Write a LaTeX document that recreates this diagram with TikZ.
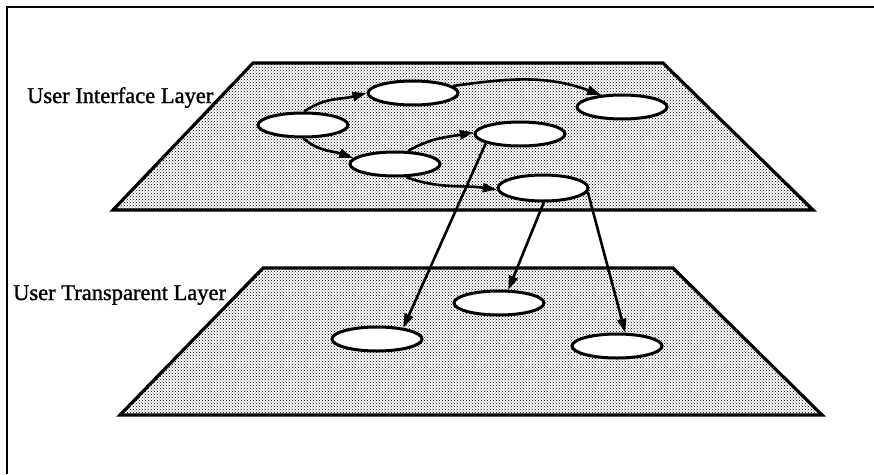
\documentclass[tikz,border=0pt]{standalone}
\usepackage{fontspec}
\setmainfont{Liberation Serif}
\newfontfamily\labelfont[FakeBold=1.3]{Liberation Serif}
\usetikzlibrary{shapes.geometric,patterns,arrows.meta}

\begin{document}
\begin{tikzpicture}[x=1pt,y=-1pt,
  frame/.style={line width=2.6pt},
  plane/.style={fill=white,
    postaction={pattern=crosshatch dots, pattern color=black}},
  planeedge/.style={line width=3.2pt, line join=miter},
  state/.style={ellipse, draw, fill=white, line width=3pt, inner sep=0pt,
    minimum width=90pt, minimum height=24pt},
  flow/.style={line width=2.6pt, -{Triangle[length=14pt,width=9pt]}},
  layerlabel/.style={anchor=base west, inner sep=0pt,
    font=\labelfont\fontsize{22.5}{24}\selectfont}
]
\useasboundingbox (0,0) rectangle (874,474);

% outer frame (top and left edges)
\draw[frame] (874,7) -- (7,7) -- (7,474);

% the two layers
\path[plane] (253,63) -- (663,63) -- (813,210) -- (113,210) -- cycle;
\draw[planeedge] (253,63) -- (663,63) -- (813,210) -- (113,210) -- cycle;
\path[plane] (263,268) -- (673,268) -- (822,415) -- (120,415) -- cycle;
\draw[planeedge] (263,268) -- (673,268) -- (822,415) -- (120,415) -- cycle;

% layer labels
\node[layerlabel] (uil) at (27,103) {User Interface Layer};
\node[layerlabel] (utl) at (13,300) {User Transparent Layer};

% states of the interface layer
\node[state] (e1) at (303,125) {};
\node[state] (e2) at (413,93) {};
\node[state] (e3) at (395,164) {};
\node[state] (e4) at (622,107) {};
\node[state] (e5) at (520,134) {};
\node[state, minimum height=26pt] (e6) at (543,188) {};

% states of the transparent layer
\node[state] (l1) at (377,339) {};
\node[state] (l2) at (499,303) {};
\node[state] (l3) at (617,346) {};

% transitions within the interface layer
\draw[flow] (e1.85) to[out=35,in=195] (e2.west);
\draw[flow] (e2.10) to[out=8,in=160] (e4.150);
\draw[flow] (e1.-88) to[out=-40,in=160] (e3.172);
\draw[flow] (e3.45) to[out=30,in=190] (e5.178);
\draw[flow] (e3.-50) to[out=-20,in=172] (e6.182);

% transitions down to the transparent layer
\draw[flow] (e5.195) -- (l1.23);
\draw[flow] (e6.-87) -- (l2.55);
\draw[flow] (e6.-5) -- (l3.58);
\end{tikzpicture}
\end{document}
